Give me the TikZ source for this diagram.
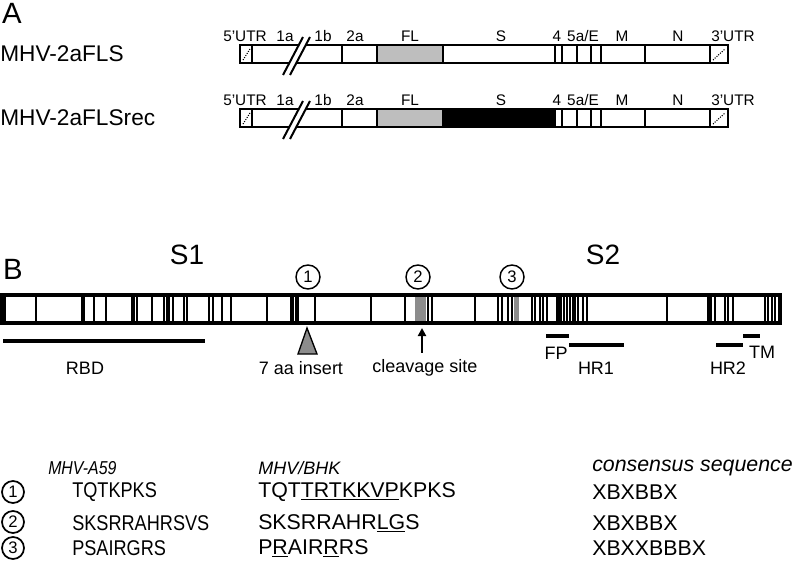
\documentclass[tikz,border=0pt]{standalone}
\usepackage{fontspec}
\setmainfont{Liberation Sans}
\newfontfamily\narrowseq[FakeStretch=0.85]{Liberation Sans}
\usetikzlibrary{arrows.meta}

\tikzset{
  orf/.style={font=\fontsize{11.5}{13}\selectfont, inner sep=0pt},
  lbl/.style={font=\fontsize{13.5}{16}\selectfont, inner sep=0pt},
  panel/.style={font=\fontsize{22}{26}\selectfont, inner sep=0pt},
  site/.style={draw, circle, line width=1.1pt, minimum size=18pt, inner sep=0pt, font=\fontsize{12.5}{14}\selectfont},
  dom/.style={line width=3pt},
  seq/.style={anchor=west, inner sep=0pt},
}

\begin{document}
\begin{tikzpicture}[x=0.75pt,y=-0.75pt]
    % Define colors
    \definecolor{orfgray}{RGB}{190,190,190}
    \definecolor{sitegray}{RGB}{140,140,140}
    \useasboundingbox (0,0) rectangle (800,567);

    % Panel A: the two genomes
    \node[panel] (panelA) at (12,13) {A};
    \foreach \y/\virus/\scol in {45/MHV-2aFLS/white, 109/MHV-2aFLSrec/black} {
        \node[seq, font=\fontsize{17}{20}\selectfont] (virus\y) at (0,\y+9) {\virus};
        \fill[orfgray] (377,\y) rectangle (443,\y+18);
        \fill[\scol] (443,\y) rectangle (555,\y+18);
        \foreach \x in {252,342,377,443,555,562,577,591,601,645,710}
            \draw[line width=1.2pt] (\x,\y) -- (\x,\y+18);
        \draw[line width=2.2pt] (240,\y) rectangle (728,\y+18);
        % UTR boxes
        \draw[densely dotted, thick] (243,\y+15) -- (250,\y+4);
        \draw[densely dotted, thick] (713,\y+15) -- (725,\y+4);
        % break in 1a
        \fill[white] (283,\y+30) -- (303,\y-8) -- (310,\y-8) -- (290,\y+30) -- cycle;
        \draw[line width=1.5pt] (283,\y+30) -- (303,\y-8);
        \draw[line width=1.5pt] (290,\y+30) -- (310,\y-8);
        \foreach \x/\orf in {245/5'UTR, 285/1a, 323/1b, 355/2a, 410/FL, 501/S, 557/4, 583/{5a/E}, 622/M, 678/N, 733/3'UTR}
            \node[orf] (orf\y-\x) at (\x,\y-9) {\orf};
    }

    % Panel B: S protein
    \node[panel] (panelB) at (13,269) {B};
    \node[font=\fontsize{21}{24}\selectfont, inner sep=0pt] (S1) at (187,255) {S1};
    \node[font=\fontsize{21}{24}\selectfont, inner sep=0pt] (S2) at (603,255) {S2};
    \node[site] (c1) at (308,277) {1};
    \node[site] (c2) at (418,277) {2};
    \node[site] (c3) at (512,277) {3};

    \fill[sitegray] (415,295) rectangle (426,323);
    \fill[sitegray] (514,295) rectangle (519,323);
    \foreach \x in {36,82,84,94,106,132,134,137,152,164,167,169,173,184,187,209,213,222,231,267,
                    291,293,296,298,315,371,405,428,432,475,498,502,508,512,532,535,540,543,547,
                    564,567,570,573,575,578,583,587,667,715,725,728,733,765,768,772,775}
        \draw[line width=1.1pt] (\x,295) -- (\x,323);
    \fill (556,295) rectangle (562,323);
    \fill (707,295) rectangle (712,323);
    \fill (0,293) rectangle (6,325);
    \draw[line width=3pt] (2,295) rectangle (780,323);

    % domains
    \draw[dom] (3,341) -- (205,341);
    \node[lbl] (RBD) at (85,368) {RBD};
    \draw[fill=sitegray, line width=1pt] (307,328) -- (298,354) -- (317,354) -- cycle;
    \node[lbl] (insert) at (301,368) {7 aa insert};
    \node[lbl] (cleave) at (425,368) {cleavage site};
    \coordinate (cut) at (422,328);
    \draw[-{Triangle[width=6pt,length=6pt]}, line width=1.6pt, shorten <=5pt] (cleave.north -| cut) -- (cut);
    \draw[dom] (546,336) -- (569,336);
    \draw[dom] (569,345) -- (624,345);
    \draw[dom] (716,345) -- (743,345);
    \draw[dom] (743,336) -- (760,336);
    \node[lbl] (FP) at (556,353) {FP};
    \node[lbl] (HR1) at (596,368) {HR1};
    \node[lbl] (HR2) at (728,368) {HR2};
    \node[lbl] (TM) at (762,352) {TM};

    % sequences
    \node[site, line width=1.3pt, minimum size=16.5pt] (r1) at (13,492) {1};
    \node[site, line width=1.3pt, minimum size=16.5pt] (r2) at (13,522) {2};
    \node[site, line width=1.3pt, minimum size=16.5pt] (r3) at (13,548) {3};
    \node[seq, font=\fontsize{14}{16}\narrowseq\itshape] (headA) at (48,468) {MHV-A59};
    \node[seq, font=\fontsize{16}{18}\narrowseq] (seqA1) at (72,492) {TQTKPKS};
    \node[seq, font=\fontsize{16}{18}\narrowseq] (seqA2) at (72,523) {SKSRRAHRSVS};
    \node[seq, font=\fontsize{16}{18}\narrowseq] (seqA3) at (72,548) {PSAIRGRS};
    \node[seq, font=\fontsize{13.5}{15}\selectfont\itshape] (headB) at (258,468) {MHV/BHK};
    \node[seq, font=\fontsize{16}{18}\selectfont] (seqB1) at (258,492) {TQT\underline{TRTKKVP}KPKS};
    \node[seq, font=\fontsize{16}{18}\selectfont] (seqB2) at (258,523) {SKSRRAHR\underline{L}\underline{G}S};
    \node[seq, font=\fontsize{16}{18}\selectfont] (seqB3) at (258,548) {P\underline{R}AIR\underline{R}RS};
    \node[seq, font=\fontsize{16}{18}\selectfont\itshape] (headC) at (592,468) {consensus sequence};
    \node[seq, font=\fontsize{16}{18}\selectfont] (cons1) at (592,492) {XBXBBX};
    \node[seq, font=\fontsize{16}{18}\selectfont] (cons2) at (592,523) {XBXBBX};
    \node[seq, font=\fontsize{16}{18}\selectfont] (cons3) at (592,548) {XBXXBBBX};
\end{tikzpicture}
\end{document}
